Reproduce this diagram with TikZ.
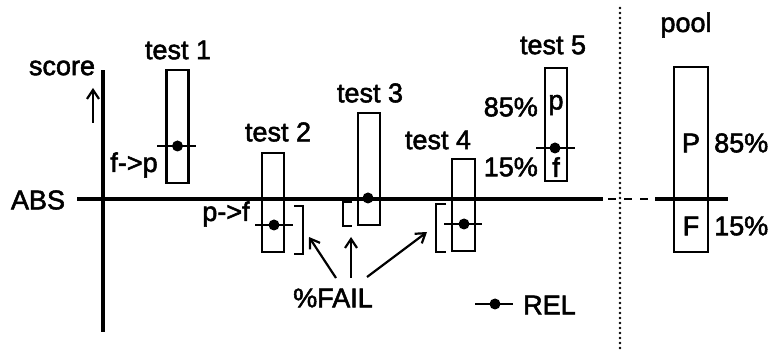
\documentclass[tikz,border=0pt]{standalone}
\usepackage{fontspec}
\setmainfont[FakeBold=2]{Liberation Sans}
\usetikzlibrary{arrows.meta}
\begin{document}
\begin{tikzpicture}[x=1pt,y=-1pt,
  every node/.style={font=\fontsize{27}{30}\selectfont, inner sep=0pt},
  axis/.style={line width=3.2pt},
  score/.style={draw, line width=2.2pt, minimum width=22pt},
  rel/.style={line width=2.2pt},
  reldot/.style={fill, circle, minimum size=11pt, inner sep=0pt},
  bracket/.style={line width=2.2pt},
  pointer/.style={line width=2.2pt, -{Straight Barb[length=9pt,width=12pt,line width=2.2pt]}}]
\useasboundingbox (0,0) rectangle (771,352);

% axes
\coordinate (ybot) at (103,332);
\coordinate (ytop) at (103,70);
\coordinate (xl) at (77,199);
\coordinate (xr) at (603,199);
\draw[axis] (ybot) -- (ytop);
\draw[axis] (xl) -- (xr);
\coordinate (dl) at (603,199);
\coordinate (dr) at (655,199);
\draw[line width=2.2pt, dash pattern=on 8pt off 8pt, dash phase=-5pt] (dl) -- (dr);
\node (abs) at (38,200) {ABS};
\node (scorelbl) at (62,68) {score};
\coordinate (sa0) at (93,123);
\coordinate (sa1) at (93,88);
\draw[pointer] (sa0) -- (sa1);

% separator
\coordinate (sep0) at (620,8);
\coordinate (sep1) at (620,352);
\draw[line width=2.8pt, line cap=round, dash pattern=on 0pt off 5pt] (sep0) -- (sep1);

% test 1
\node[score, minimum height=113pt] (t1) at (177.5,126.5) {};
\node (t1l) at (178,50) {test 1};
\coordinate (t1a) at (157,146); \coordinate (t1b) at (196,146);
\draw[rel] (t1a) -- (t1b);
\node[reldot] (t1d) at (177.5,146) {};
\node (fp) at (134,165) {f->p};

% test 2
\node[score, minimum height=99pt] (t2) at (273,202.5) {};
\node (t2l) at (278,132) {test 2};
\coordinate (t2a) at (255,225); \coordinate (t2b) at (293,225);
\draw[rel] (t2a) -- (t2b);
\node[reldot] (t2d) at (274,225) {};
\node (pf) at (226,214) {p->f};
\coordinate (b2a) at (294,206); \coordinate (b2b) at (303,206);
\coordinate (b2c) at (303,254); \coordinate (b2d) at (294,254);
\draw[bracket] (b2a) -- (b2b) -- (b2c) -- (b2d);

% test 3
\node[score, minimum height=112pt] (t3) at (369,169) {};
\node (t3l) at (370,93) {test 3};
\node[reldot] (t3d) at (368,198) {};
\coordinate (b3a) at (352,202); \coordinate (b3b) at (343,202);
\coordinate (b3c) at (343,226); \coordinate (b3d) at (352,226);
\draw[bracket] (b3a) -- (b3b) -- (b3c) -- (b3d);

% test 4
\node[score, minimum width=23pt, minimum height=92pt] (t4) at (463.5,205) {};
\node (t4l) at (438,140) {test 4};
\coordinate (t4a) at (444,224); \coordinate (t4b) at (482,224);
\draw[rel] (t4a) -- (t4b);
\node[reldot] (t4d) at (464,224) {};
\coordinate (b4a) at (446,204); \coordinate (b4b) at (436,204);
\coordinate (b4c) at (436,252); \coordinate (b4d) at (446,252);
\draw[bracket] (b4a) -- (b4b) -- (b4c) -- (b4d);

% %FAIL pointers
\node (fail) at (333,298) {\%FAIL};
\coordinate (f1s) at (336,278); \coordinate (f1e) at (309,237);
\coordinate (f2s) at (351,278); \coordinate (f2e) at (351,237);
\coordinate (f3s) at (367,277); \coordinate (f3e) at (427,232);
\draw[pointer] (f1s) -- (f1e);
\draw[pointer] (f2s) -- (f2e);
\draw[pointer] (f3s) -- (f3e);

% test 5
\node[score, minimum height=113pt] (t5) at (556,124.5) {};
\node (t5l) at (553,45) {test 5};
\coordinate (t5a) at (536,148); \coordinate (t5b) at (575,148);
\draw[rel] (t5a) -- (t5b);
\node[reldot] (t5d) at (555,148) {};
\node (t5p) at (556,105) {p};
\node (t5f) at (556,167) {f};
\node[anchor=east] (t5hi) at (538,107) {85\%};
\node[anchor=east] (t5lo) at (538,167) {15\%};

% legend
\coordinate (lg0) at (475,304); \coordinate (lg1) at (513,304);
\draw[rel] (lg0) -- (lg1);
\node[reldot] (lgd) at (495,304) {};
\node[anchor=west] (rel) at (523,305) {REL};

% pool
\node[score, minimum width=34pt, minimum height=185pt] (pool) at (691,159.5) {};
\node (pooll) at (686,25) {pool};
\coordinate (pl0) at (655,199); \coordinate (pl1) at (728,199);
\draw[axis] (pl0) -- (pl1);
\node (pP) at (691,143) {P};
\node (pF) at (691,226) {F};
\node[anchor=west] (phi) at (714,143) {85\%};
\node[anchor=west] (plo) at (714,226) {15\%};
\end{tikzpicture}
\end{document}
